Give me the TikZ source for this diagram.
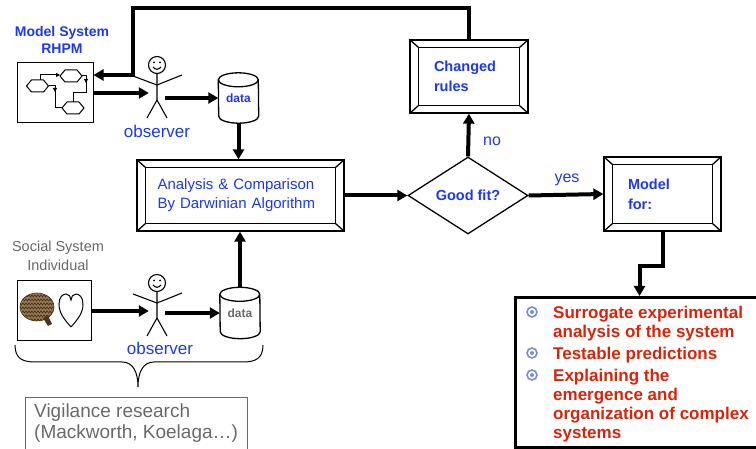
\documentclass[tikz,border=0pt]{standalone}
\usepackage{fontspec}
\setmainfont{Liberation Sans}
\usepackage{tikz}
\usetikzlibrary{arrows.meta}
\usetikzlibrary{shapes.geometric}
\usetikzlibrary{calc}
\usetikzlibrary{decorations.pathmorphing}
\definecolor{labelBlue}{RGB}{28,55,250}
\definecolor{noteGray}{RGB}{105,105,105}
\definecolor{listRed}{RGB}{220,35,10}
\definecolor{bulletBlue}{RGB}{115,140,235}
\definecolor{brainBrown}{RGB}{150,120,82}
\definecolor{brainDark}{RGB}{70,52,32}

\begin{document}
\begin{tikzpicture}[x=1pt,y=-1pt,
  flow/.style={line width=4pt, -{Triangle[length=10pt,width=11pt]}},
  smallflow/.style={line width=1pt, -{Triangle[length=4pt,width=4pt]}},
  bevelbox/.style={draw, line width=1.3pt, fill=white, align=left, inner sep=0pt},
  drum/.style={line width=1.3pt},
  blueText/.style={text=labelBlue, font=\fontsize{15}{19}\selectfont},
  blueBold/.style={text=labelBlue, font=\fontsize{14.5}{20}\selectfont\bfseries},
  grayText/.style={text=noteGray, font=\fontsize{14.5}{19}\selectfont},
  redBold/.style={text=listRed, font=\fontsize{17}{19}\selectfont\bfseries},
  hidden/.style={inner sep=0pt, minimum width=16pt, minimum height=56pt},
]
\useasboundingbox (0,0) rectangle (756,449);
\newcommand\Hex{+(-11,0) -- +(-6,-6) -- +(6,-6) -- +(11,0) -- +(6,6) -- +(-6,6) -- cycle}
\newcommand\Bevel[1]{%
  \draw[line width=1.3pt] ([shift={(9pt,-8pt)}]#1.north west) rectangle ([shift={(-9pt,8pt)}]#1.south east);
  \foreach \c/\dx/\dy in {north west/9/-8, north east/-9/-8, south west/9/8, south east/-9/8}
    \draw[line width=1.3pt] (#1.\c) -- ([shift={(\dx pt,\dy pt)}]#1.\c);}
\newcommand\Drum[1]{%
  \draw[drum] ([yshift=-7pt]#1.north west) arc[start angle=180, end angle=0, x radius=20pt, y radius=7pt]
    -- ([yshift=7pt]#1.south east) arc[start angle=0, end angle=-180, x radius=20pt, y radius=7pt] -- cycle;
  \draw[drum] ([yshift=-7pt]#1.north west) arc[start angle=180, end angle=360, x radius=20pt, y radius=7pt];}
\newcommand\Stick[1]{%
  \begin{scope}[shift={(#1.center)}, line width=1.1pt]
  \draw (0,-27) circle (8.5pt);
  \fill (-3,-29.5) circle (1pt);
  \fill (3,-29.5) circle (1pt);
  \draw (-4,-25) .. controls (-2,-22) and (2,-22) .. (4,-25);
  \draw (0,-18.5) -- (0,8) -- (-10,26) (0,8) -- (10,26);
  \draw (-24,-16) -- (0,-7) -- (25,-17);
  \end{scope}}

\node[text=labelBlue, font=\fontsize{14}{17}\selectfont\bfseries, align=center] (rhpmlabel) at (62,40) {Model System\\RHPM};
\node[draw, line width=1pt, minimum width=76pt, minimum height=60pt, inner sep=0pt] (rhpm) at (55,93) {};
\draw[line width=1pt] (71,76) \Hex;
\draw[line width=1pt] (37.5,86) \Hex;
\draw[line width=1pt] (73,108) \Hex;
\draw[smallflow] (40,80) |- (60,75);
\draw[smallflow] (48.5,86) -| (55,92);
\draw[line width=1pt] (55,91) |- (62,108);
\draw[smallflow] (82,76) -| (86,83);
\draw[line width=1pt] (86,82) |- (73,93) -- (73,102);

\node[hidden] (obs1) at (157,92) {};
\Stick{obs1}
\node[text=labelBlue, font=\fontsize{17}{20}\selectfont] (obs1label) at (157,131) {observer};
\node[inner sep=0pt, minimum width=40pt, minimum height=50pt, text=labelBlue, font=\fontsize{12}{14}\selectfont\bfseries] (data1) at (238.5,98) {data};
\Drum{data1}

\node[bevelbox, blueText, minimum width=207pt, minimum height=71pt, text width=166pt] (analysis) at (240.5,195.5) {Analysis \& Comparison\\By Darwinian Algorithm};
\Bevel{analysis}
\node[bevelbox, blueBold, minimum width=118pt, minimum height=73pt, text width=70pt] (changed) at (469,76.5) {Changed\\rules};
\Bevel{changed}
\node[diamond, draw, line width=1.3pt, fill=white, aspect=1.5, inner sep=0pt, minimum width=120pt, minimum height=77pt, blueBold] (goodfit) at (468,195.5) {Good fit?};
\node[bevelbox, blueBold, minimum width=117pt, minimum height=74pt, text width=69pt] (modelfor) at (662.5,194) {Model\\for:};
\Bevel{modelfor}
\node[text=labelBlue, font=\fontsize{16}{19}\selectfont] (nolabel) at (492,141) {no};
\node[text=labelBlue, font=\fontsize{16}{19}\selectfont] (yeslabel) at (567,180) {yes};

\node[draw, line width=3pt, minimum width=248pt, minimum height=150pt, inner sep=0pt, anchor=north west] (uses) at (514,296) {};
\node[redBold, align=left, inner sep=0pt, anchor=north west] (usestext) at (553,305.5) {Surrogate experimental\\analysis of the system\\[3pt]Testable predictions\\[3pt]Explaining the\\emergence and\\organization of complex\\systems};
\foreach \y in {312,353,375} {
  \draw[bulletBlue, line width=1.6pt] (532,\y) circle (5pt);
  \fill[bulletBlue] (532,\y) circle (2pt);
}

\node[grayText, align=center] (sociallabel) at (58,256) {Social System\\Individual};
\node[draw, line width=1pt, minimum width=74pt, minimum height=60pt, inner sep=0pt] (individual) at (54,311) {};
\begin{scope}
\clip (37,307) ellipse (17pt and 14pt);
\fill[brainBrown] (37,307) ellipse (17pt and 14pt);
\foreach \yy in {296,300,304,308,312,316,320}
  \draw[brainDark, line width=0.7pt, decorate, decoration={snake, amplitude=1pt, segment length=3pt}] (19,\yy) -- (55,\yy);
\end{scope}
\draw[brainDark, line width=0.6pt] (37,307) ellipse (17pt and 14pt);
\fill[brainDark] (43,318) -- (48,326) -- (52,324) -- (48,316) -- cycle;
\draw[line width=1pt] (71,327) .. controls (64,319) and (59,313) .. (59,304) .. controls (59,297) and (63,294) .. (66,294) .. controls (69,294) and (71,297) .. (71,300) .. controls (71,297) and (73,294) .. (76,294) .. controls (79,294) and (83,297) .. (83,304) .. controls (83,313) and (78,319) .. (71,327);

\node[hidden] (obs2) at (157,310) {};
\Stick{obs2}
\node[text=labelBlue, font=\fontsize{17}{20}\selectfont] (obs2label) at (160,348) {observer};
\node[inner sep=0pt, minimum width=40pt, minimum height=51pt, text=noteGray, font=\fontsize{12}{14}\selectfont\bfseries] (data2) at (240,313) {data};
\Drum{data2}

\draw[line width=1pt] (15,345) .. controls (15,358) and (22,362) .. (35,362) -- (122,362) .. controls (133,362) and (138,372) .. (138,387) .. controls (138,372) and (143,362) .. (154,362) -- (243,362) .. controls (256,362) and (263,358) .. (263,345);
\node[draw=noteGray, line width=1pt, minimum width=222pt, minimum height=64pt, inner sep=0pt, anchor=north west] (vigil) at (25,397) {};
\node[text=noteGray, font=\fontsize{19}{21}\selectfont, align=left, inner sep=0pt, anchor=north west] (vigiltext) at (34,404) {Vigilance research\\(Mackworth, Koelaga…)};

\coordinate (feedcorner) at (133,8);
\draw[flow] (rhpm.east) -- (rhpm.east -| obs1.west);
\draw[flow] (obs1.east |- data1.west) -- (data1.west);
\draw[flow] (data1.south) -- (data1.south |- analysis.north);
\draw[flow] (individual.east) -- (individual.east -| obs2.west);
\draw[flow] (obs2.east |- data2.west) -- (data2.west);
\draw[flow] (data2.north) -- (data2.north |- analysis.south);
\draw[flow] (analysis.east) -- (goodfit.west);
\draw[flow] (goodfit.north) -- (changed.south);
\draw[flow] (goodfit.east) -- (modelfor.west);
\draw[flow] (changed.north) |- (feedcorner) |- ([yshift=18pt]rhpm.east);
\draw[flow] (modelfor.south) -- ++(0,34) -| (uses.north);
\end{tikzpicture}
\end{document}
